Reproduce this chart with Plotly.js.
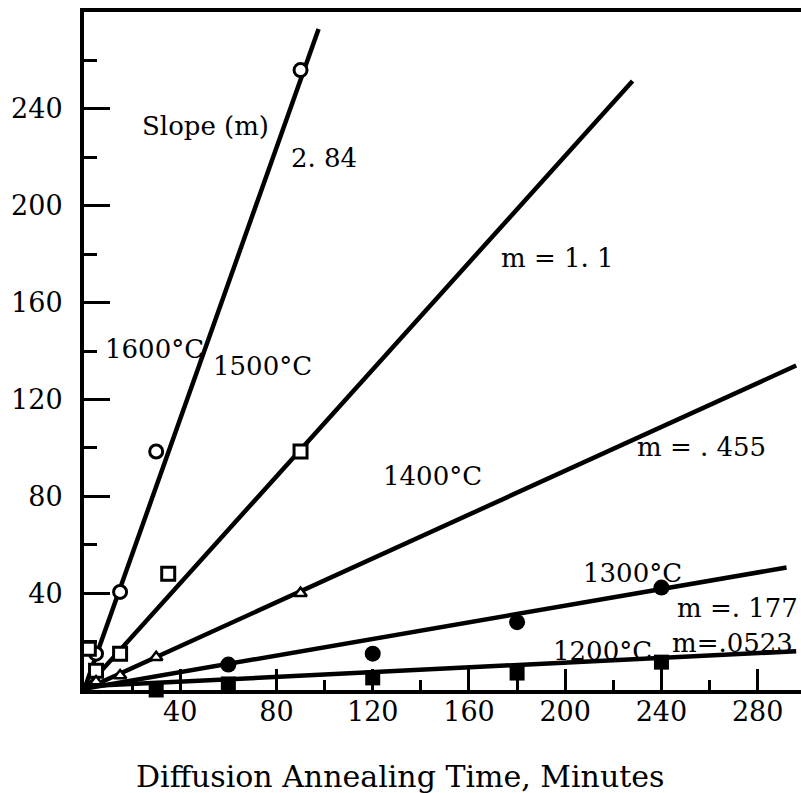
<!DOCTYPE html>
<html>
<head>
<meta charset="utf-8">
<script src="https://cdn.plot.ly/plotly-3.0.1.min.js"></script>
<style>
  html, body { margin: 0; padding: 0; background: #fff; }
  #chart { width: 801px; height: 793px; }
</style>
</head>
<body>
<div id="chart"></div>
<script>
// ---- Data ----
// Measured points (time in minutes, y value)
const t1600 = [5, 15, 30, 90];
const v1600 = [15, 40.5, 98.5, 256];

const t1500 = [2, 5, 15, 35, 90];
const v1500 = [17, 8, 15, 48, 98.5];

const t1400 = [5, 15, 30, 90];
const v1400 = [3.5, 6, 13.5, 40];

const t1300 = [60, 120, 180, 240];
const v1300 = [10.5, 15, 28, 42.3];

const t1200 = [30, 60, 120, 180, 240];
const v1200 = [0, 2.5, 5, 7, 11.5];

// Fitted straight lines (end points)
const fit1600x = [0, 97.5];
const fit1600y = [0, 273];
const fit1500x = [0, 228];
const fit1500y = [0, 251.5];
const fit1400x = [0, 296];
const fit1400y = [0, 134];
const fit1300x = [0, 292];
const fit1300y = [0.5, 50.6];
const fit1200x = [0, 296];
const fit1200y = [1.5, 16];

// Tick labels
const xTicks = [40, 80, 120, 160, 200, 240, 280];
const yTicks = [40, 80, 120, 160, 200, 240];

// Text labels on the chart
const labelTexts = ["Slope (m)", "2. 84", "1600°C", "1500°C", "m = 1. 1", "1400°C",
                    "m = . 455", "1300°C", "m =. 177", "1200°C", "m=.0523"];
const labelX = [50.3, 99.7, 29.5, 74, 197, 145, 256.8, 228, 271.7, 215.6, 269.6];
const labelY = [233, 219.8, 141, 134, 178.6, 88.2, 100.2, 48.2, 33.8, 16, 19.4];

const xTitle = "Diffusion Annealing Time, Minutes";

// ---- Build chart ----
const FONT = "DejaVu Serif, serif";
const lineStyle = {color: "black", width: 4.5};

function fitTrace(x, y) {
  return {x: x, y: y, mode: "lines", line: lineStyle, hoverinfo: "skip", showlegend: false, cliponaxis: false};
}
function ptTrace(x, y, symbol, size, fill, lw) {
  return {x: x, y: y, mode: "markers", showlegend: false, cliponaxis: false,
          marker: {symbol: symbol, size: size, color: fill, line: {color: "black", width: lw}}};
}

const traces = [
  fitTrace(fit1600x, fit1600y),
  fitTrace(fit1500x, fit1500y),
  fitTrace(fit1400x, fit1400y),
  fitTrace(fit1300x, fit1300y),
  fitTrace(fit1200x, fit1200y),
  ptTrace(t1600, v1600, "circle", 13, "white", 3),
  ptTrace(t1500, v1500, "square", 13, "white", 3),
  ptTrace(t1400, v1400, "triangle-up", 11, "white", 2.5),
  ptTrace(t1300, v1300, "circle", 16, "black", 0),
  ptTrace(t1200, v1200, "square", 15, "black", 0)
];

const annotations = labelTexts.map((t, i) => ({
  x: labelX[i], y: labelY[i], xref: "x", yref: "y", text: t, showarrow: false,
  font: {family: FONT, size: 26, color: "black"}, xanchor: "center", yanchor: "middle"
}));

// x-axis title, placed where the reference centres it
annotations.push({
  x: 0.4407, y: -0.127, xref: "paper", yref: "paper", text: xTitle, showarrow: false,
  font: {family: FONT, size: 30, color: "black"}, xanchor: "center", yanchor: "middle"
});

const layout = {
  width: 801, height: 793,
  margin: {l: 84, r: 0, t: 12, b: 103},
  paper_bgcolor: "white", plot_bgcolor: "white",
  showlegend: false,
  xaxis: {
    range: [0, 298], showgrid: false, zeroline: false,
    showline: true, linecolor: "black", linewidth: 4, mirror: true,
    tickmode: "array", tickvals: xTicks, ticktext: xTicks.map(String),
    ticks: "inside", ticklen: 21, tickwidth: 3, tickcolor: "black",
    ticklabelstandoff: -5,
    minor: {tickmode: "linear", tick0: 0, dtick: 20, ticks: "inside", ticklen: 10, tickwidth: 3, tickcolor: "black", showgrid: false},
    tickfont: {family: FONT, size: 27, color: "black"}
  },
  yaxis: {
    range: [0, 280], showgrid: false, zeroline: false,
    showline: true, linecolor: "black", linewidth: 4,
    tickmode: "array", tickvals: yTicks, ticktext: yTicks.map(String),
    ticks: "inside", ticklen: 26, tickwidth: 3, tickcolor: "black",
    ticklabelstandoff: 12,
    minor: {tickmode: "linear", tick0: 0, dtick: 20, ticks: "inside", ticklen: 13, tickwidth: 3, tickcolor: "black", showgrid: false},
    tickfont: {family: FONT, size: 27, color: "black"}
  },
  annotations: annotations
};

Plotly.newPlot("chart", traces, layout, {displayModeBar: false, staticPlot: true});
</script>
</body>
</html>
